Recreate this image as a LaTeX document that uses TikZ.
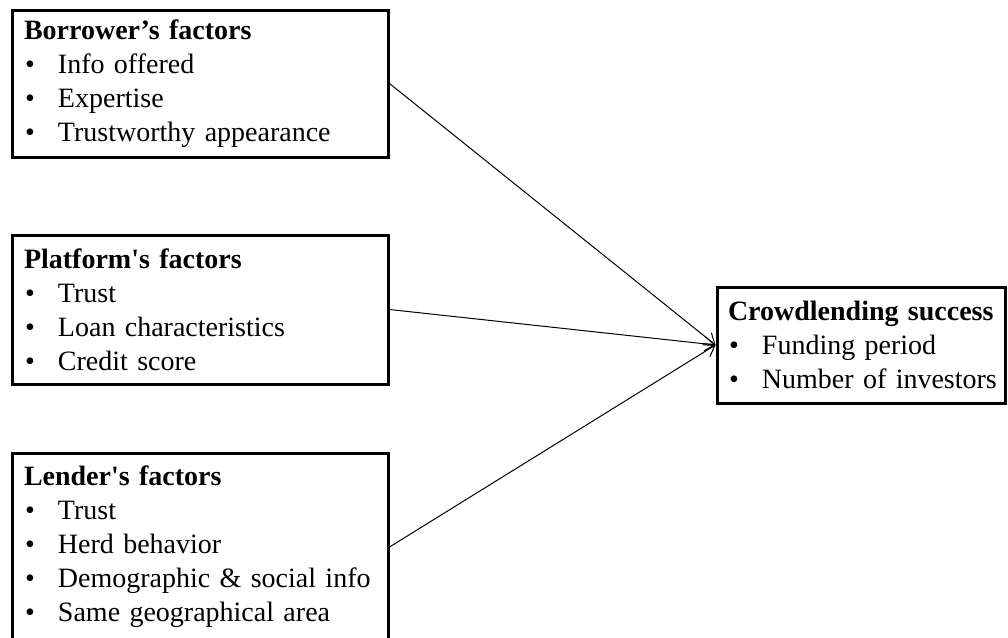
\documentclass[tikz,border=0pt]{standalone}
\usepackage{fontspec}
\setmainfont{Liberation Serif}
\usetikzlibrary{arrows.meta}
\newcommand\bitem[1]{\mbox{\hspace*{1pt}\makebox[33pt][l]{\textbullet}#1}}
\begin{document}
\begin{tikzpicture}[x=1pt,y=-1pt,
  factorbox/.style={draw, line width=3pt, rectangle, inner xsep=12pt, inner ysep=0pt,
    text width=352pt, align=left, font=\fontsize{28}{34}\selectfont},
  link/.style={line width=1pt, -{Straight Barb[length=10pt,width=14pt]}}]
\clip (0,0) rectangle (1008,637);
\fill[white] (0,0) rectangle (1008,637);
\node[factorbox, minimum height=147pt] (bor) at (200,83.5)
  {\textbf{Borrower’s factors}\\
   \bitem{Info offered}\\
   \bitem{Expertise}\\
   \bitem{Trustworthy appearance}};
\node[factorbox, minimum height=149pt] (plat) at (200,309.5)
  {\textbf{Platform\textquotesingle s factors}\\
   \bitem{Trust}\\
   \bitem{Loan characteristics}\\
   \bitem{Credit score}};
\node[factorbox, minimum height=188pt] (lend) at (200,547)
  {\textbf{Lender\textquotesingle s factors}\\
   \bitem{Trust}\\
   \bitem{Herd behavior}\\
   \bitem{Demographic \& social info}\\
   \bitem{Same geographical area}};
\node[factorbox, text width=266pt, inner xsep=11pt, minimum height=116pt] (cs) at (861,345)
  {\mbox{\textbf{Crowdlending success}}\\
   \bitem{Funding period}\\
   \bitem{Number of investors}};
\draw[link] (bor.east) -- (cs.west);
\draw[link] (plat.east) -- (cs.west);
\draw[link] (lend.east) -- (cs.west);
\end{tikzpicture}
\end{document}
